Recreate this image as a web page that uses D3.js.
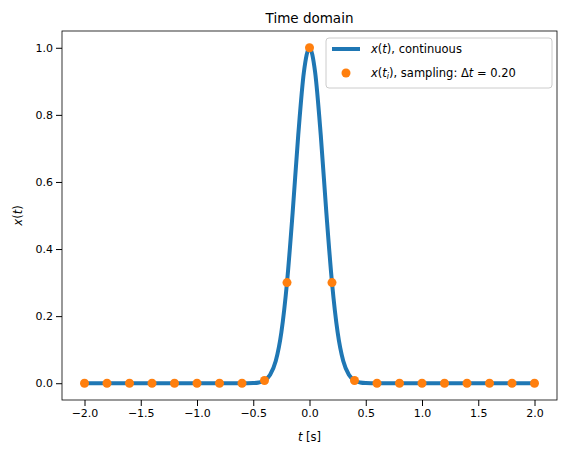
<!DOCTYPE html>
<html><head><meta charset="utf-8">
<script src="https://cdn.jsdelivr.net/npm/d3@7"></script>
<style>body{margin:0;background:#fff}text{font-family:"DejaVu Sans",sans-serif}</style>
</head><body><svg id="c" width="567" height="454"></svg>
<script>
// continuous curve, values
const curveT = [-2, -0.6, -0.5, -0.45, -0.4, -0.35, -0.3, -0.25, -0.2, -0.15, -0.1, -0.05, 0, 0.05, 0.1, 0.15, 0.2, 0.25, 0.3, 0.35, 0.4, 0.45, 0.5, 0.6, 2]
const curveX = [0, 0, 0.0005, 0.0022, 0.008, 0.025, 0.066, 0.152, 0.30, 0.508, 0.740, 0.927, 1, 0.927, 0.740, 0.508, 0.30, 0.152, 0.066, 0.025, 0.008, 0.0022, 0.0005, 0, 0]
// samples
const sampleT = [-2, -1.8, -1.6, -1.4, -1.2, -1, -0.8, -0.6, -0.4, -0.2, 0, 0.2, 0.4, 0.6, 0.8, 1, 1.2, 1.4, 1.6, 1.8, 2]
const sampleX = [0, 0, 0, 0, 0, 0, 0, 0, 0.008, 0.30, 1, 0.30, 0.008, 0, 0, 0, 0, 0, 0, 0, 0]
const xTicks = [-2, -1.5, -1, -0.5, 0, 0.5, 1, 1.5, 2]
const yTicks = [0, 0.2, 0.4, 0.6, 0.8, 1]

const svg = d3.select('#c')
const L = 62, R = 557, T = 31, B = 400
const x = d3.scaleLinear().domain([-2.2, 2.2]).range([L, R])
const y = d3.scaleLinear().domain([-0.05, 1.05]).range([B, T])

svg.append('g').attr('transform', `translate(0,${B})`)
  .call(d3.axisBottom(x).tickValues(xTicks).tickFormat(d3.format('.1f')).tickSizeOuter(0))
svg.append('g').attr('transform', `translate(${L},0)`)
  .call(d3.axisLeft(y).tickValues(yTicks).tickFormat(d3.format('.1f')).tickSizeOuter(0))
svg.selectAll('.tick text').attr('font-size', 11).attr('fill', '#000')
svg.selectAll('.domain').remove()
svg.append('rect').attr('x', L).attr('y', T).attr('width', R - L).attr('height', B - T)
  .attr('fill', 'none').attr('stroke', '#000').attr('stroke-width', 0.8)

const line = d3.line().x((d, i) => x(curveT[i])).y(d => y(d)).curve(d3.curveMonotoneX)
svg.append('path').datum(curveX).attr('d', line).attr('fill', 'none')
  .attr('stroke', '#1f77b4').attr('stroke-width', 4)

svg.selectAll('.dot').data(sampleX).join('circle')
  .attr('cx', (d, i) => x(sampleT[i])).attr('cy', d => y(d)).attr('r', 4.5).attr('fill', '#ff7f0e')

svg.append('text').attr('x', (L + R) / 2).attr('y', 23).attr('text-anchor', 'middle').attr('font-size', 13.5).text('Time domain')
svg.append('text').attr('x', (L + R) / 2).attr('y', 441).attr('text-anchor', 'middle').attr('font-size', 11.5)
  .html('<tspan font-style="italic">t</tspan> [s]')
svg.append('text').attr('transform', `translate(22,${(T + B) / 2}) rotate(-90)`).attr('text-anchor', 'middle').attr('font-size', 11.5)
  .html('<tspan font-style="italic">x</tspan>(<tspan font-style="italic">t</tspan>)')

const lg = svg.append('g')
lg.append('rect').attr('x', 326).attr('y', 38).attr('width', 226).attr('height', 50).attr('rx', 3)
  .attr('fill', '#fff').attr('fill-opacity', 0.8).attr('stroke', '#ccc')
lg.append('line').attr('x1', 332).attr('x2', 360).attr('y1', 49).attr('y2', 49).attr('stroke', '#1f77b4').attr('stroke-width', 4)
lg.append('circle').attr('cx', 346).attr('cy', 73).attr('r', 4.5).attr('fill', '#ff7f0e')
lg.append('text').attr('x', 371).attr('y', 53).attr('font-size', 11.5)
  .html('<tspan font-style="italic">x</tspan>(<tspan font-style="italic">t</tspan>), continuous')
lg.append('text').attr('x', 371).attr('y', 77).attr('font-size', 11.5)
  .html('<tspan font-style="italic">x</tspan>(<tspan font-style="italic">t<tspan font-size="8" dy="2">i</tspan></tspan><tspan dy="-2">), sampling: Δ</tspan><tspan font-style="italic">t</tspan> = 0.20')
</script></body></html>
